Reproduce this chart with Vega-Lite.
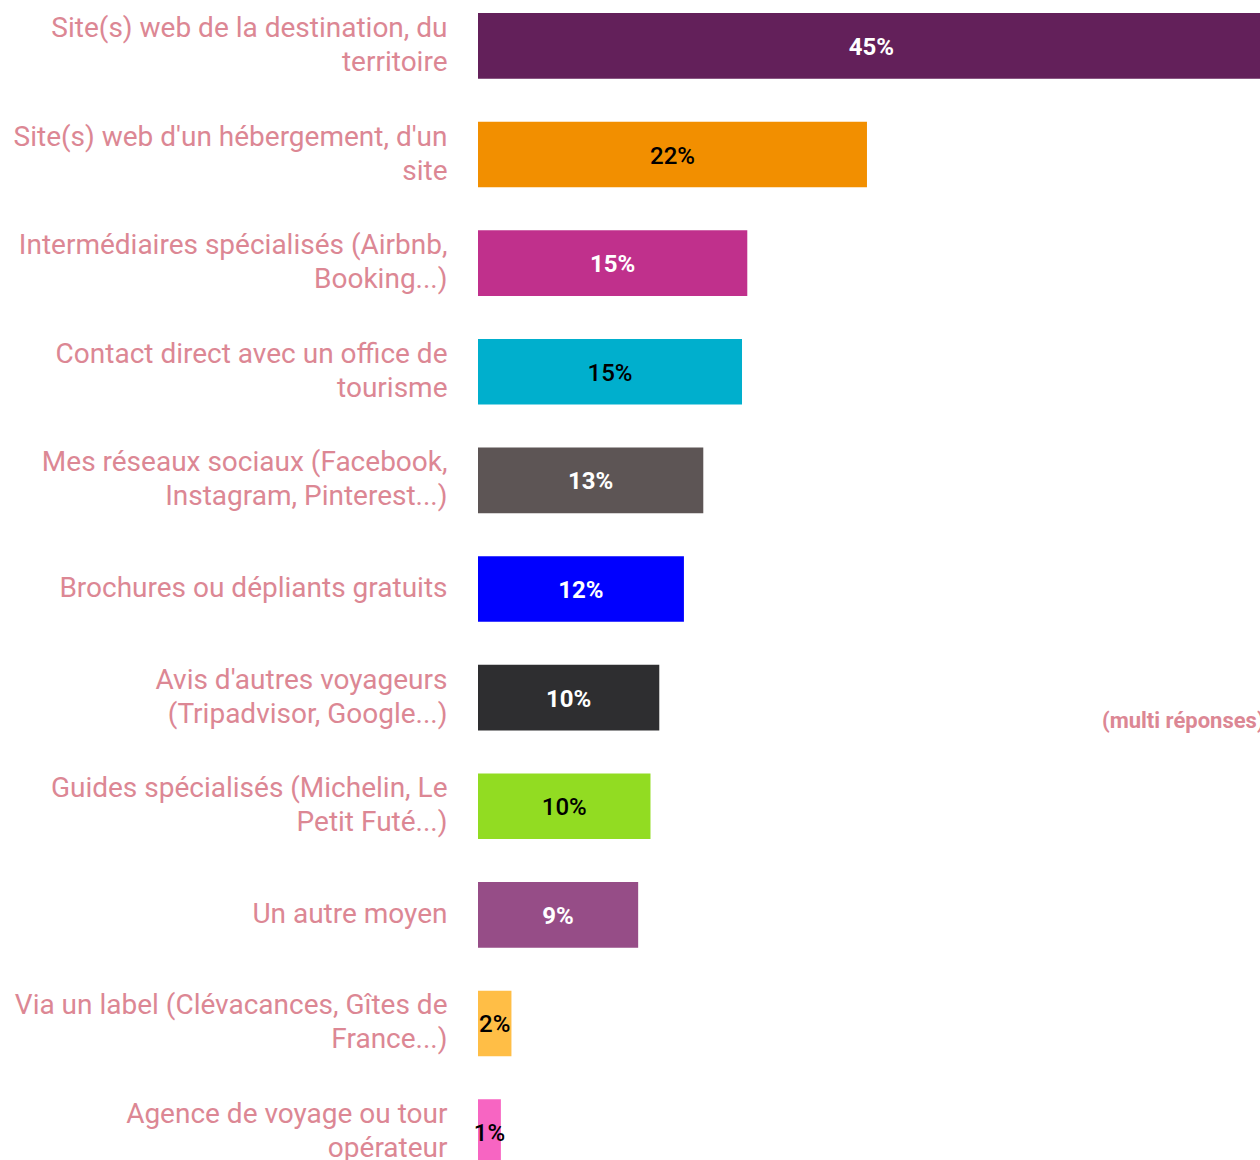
{
  "$schema": "https://vega.github.io/schema/vega-lite/v6.json",
  "width": 782,
  "height": 1178,
  "padding": {"left": 13, "top": 0, "right": 0, "bottom": 0},
  "background": "white",
  "config": {"view": {"stroke": null}, "font": "Roboto"},
  "datasets": {
    "bars": [
      {"source": "Site(s) web de la destination, du\nterritoire", "value": 0.447, "color": "#63205a", "dark": true},
      {"source": "Site(s) web d'un hébergement, d'un\nsite", "value": 0.221, "color": "#f28f00", "dark": false},
      {"source": "Intermédiaires spécialisés (Airbnb,\nBooking...)", "value": 0.153, "color": "#c0308c", "dark": true},
      {"source": "Contact direct avec un office de\ntourisme", "value": 0.15, "color": "#00afcd", "dark": false},
      {"source": "Mes réseaux sociaux (Facebook,\nInstagram, Pinterest...)", "value": 0.128, "color": "#5d5555", "dark": true},
      {"source": "Brochures ou dépliants gratuits", "value": 0.117, "color": "#0000ff", "dark": true},
      {"source": "Avis d'autres voyageurs\n(Tripadvisor, Google...)", "value": 0.103, "color": "#2e2e30", "dark": true},
      {"source": "Guides spécialisés (Michelin, Le\nPetit Futé...)", "value": 0.098, "color": "#92dc22", "dark": false},
      {"source": "Un autre moyen", "value": 0.091, "color": "#964d87", "dark": true},
      {"source": "Via un label (Clévacances, Gîtes de\nFrance...)", "value": 0.019, "color": "#ffbe46", "dark": false},
      {"source": "Agence de voyage ou tour\nopérateur", "value": 0.013, "color": "#f765c2", "dark": false}
    ],
    "note": [
      {"text": "(multi réponses)", "source": "Avis d'autres voyageurs\n(Tripadvisor, Google...)", "value": 0.3545}
    ]
  },
  "data": {"name": "bars"},
  "encoding": {
    "y": {
      "field": "source",
      "type": "nominal",
      "sort": null,
      "scale": {"paddingInner": 0.395, "paddingOuter": 0.12},
      "axis": {
        "title": null,
        "ticks": false,
        "domain": false,
        "labelPadding": 31,
        "labelFontSize": 28,
        "labelColor": "#dc8794",
        "labelFont": "Roboto",
        "labelLineHeight": 34,
        "labelLimit": 700,
        "labelOffset": {"expr": "indexof(datum.label, '\\n') >= 0 ? -17 : 0"},
        "labelExpr": "split(datum.label, '\\n')"
      }
    }
  },
  "layer": [
    {
      "mark": {"type": "bar", "clip": true},
      "encoding": {
        "x": {"field": "value", "type": "quantitative", "scale": {"domain": [0, 0.4443], "nice": false}, "axis": null},
        "color": {"field": "color", "type": "nominal", "scale": null}
      }
    },
    {
      "transform": [{"filter": "datum.dark"}, {"calculate": "datum.value / 2", "as": "mid"}],
      "mark": {"type": "text", "fontSize": 24, "fontWeight": "bold", "color": "white", "align": "center", "baseline": "middle", "dy": 2, "font": "Roboto"},
      "encoding": {
        "x": {"field": "mid", "type": "quantitative"},
        "text": {"field": "value", "type": "quantitative", "format": ".0%"}
      }
    },
    {
      "transform": [{"filter": "!datum.dark"}, {"calculate": "datum.value / 2", "as": "mid"}],
      "mark": {"type": "text", "fontSize": 24, "fontWeight": 500, "color": "black", "align": "center", "baseline": "middle", "dy": 2, "font": "Roboto"},
      "encoding": {
        "x": {"field": "mid", "type": "quantitative"},
        "text": {"field": "value", "type": "quantitative", "format": ".0%"}
      }
    },
    {
      "data": {"name": "note"},
      "mark": {"type": "text", "fontSize": 22, "fontWeight": "bold", "color": "#dc8794", "align": "left", "baseline": "middle", "dy": 23, "font": "Roboto"},
      "encoding": {
        "x": {"field": "value", "type": "quantitative"},
        "text": {"field": "text", "type": "nominal"}
      }
    }
  ]
}
